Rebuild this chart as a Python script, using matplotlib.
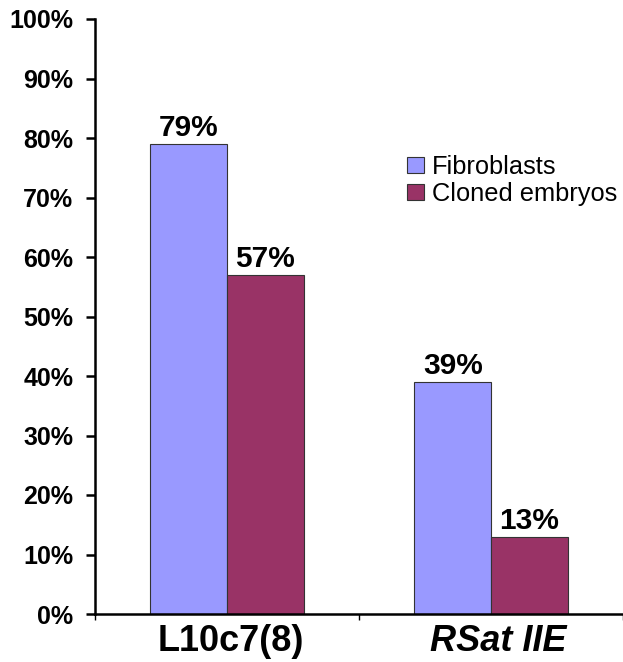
import matplotlib
matplotlib.use("Agg")
import matplotlib.pyplot as plt
import matplotlib.transforms as mtransforms
import numpy as np
from matplotlib.patches import Patch

categories = ["L10c7(8)", "RSat IIE"]
series_names = ["Fibroblasts", "Cloned embryos"]
fibroblasts = [79, 39]
cloned_embryos = [57, 13]
yticks = [0, 10, 20, 30, 40, 50, 60, 70, 80, 90, 100]

colors = ["#9999FF", "#993366"]

plt.rcParams["font.family"] = ["Liberation Sans", "DejaVu Sans"]

fig = plt.figure(figsize=(6.23, 6.62), dpi=100)
ax = fig.add_axes([95 / 623, 1 - 614 / 662, 1 - 95 / 623, (614 - 19) / 662])

x = np.arange(len(categories))
w = 0.29
for vals, off, col in [(fibroblasts, -w / 2, colors[0]), (cloned_embryos, w / 2, colors[1])]:
    bars = ax.bar(x + off, vals, width=w, color=col, edgecolor="#333333", linewidth=0.8, zorder=2)
    for b, v in zip(bars, vals):
        ax.text(b.get_x() + b.get_width() / 2, v + 0.3, f"{v}%", ha="center", va="bottom",
                fontsize=21.5, fontweight="bold")

ax.set_xlim(-0.5, 1.5)
ax.set_ylim(0, 100)
ax.set_yticks(yticks)
ax.set_yticklabels([f"{t}%" for t in yticks], fontsize=18, fontweight="bold")
ax.tick_params(axis="y", direction="out", length=6.5, width=1.8, pad=9)

ax.set_xticks([-0.5, 0.5, 1.5])
ax.set_xticklabels([])
ax.tick_params(axis="x", direction="out", length=4, width=1.0)
ax.set_xticks(x, minor=True)
ax.set_xticklabels(categories, minor=True, fontsize=26, fontweight="bold")
ax.tick_params(axis="x", which="minor", length=0, pad=7)
cat_labels = ax.get_xticklabels(minor=True)
cat_labels[1].set_fontstyle("italic")
for lbl, dx in zip(cat_labels, [4, 7]):
    lbl.set_transform(lbl.get_transform() + mtransforms.ScaledTranslation(dx / 100, 0, fig.dpi_scale_trans))

for s in ["top", "right"]:
    ax.spines[s].set_visible(False)
ax.spines["left"].set_linewidth(1.8)
ax.spines["bottom"].set_linewidth(1.8)

handles = [Patch(facecolor=c, edgecolor="#333333", linewidth=0.8) for c in colors]
ax.legend(handles, series_names, loc="upper left", bbox_to_anchor=(0.571, 0.788),
          frameon=False, fontsize=18.3, handlelength=0.7, handleheight=0.6,
          handletextpad=0.3, labelspacing=0.12, borderaxespad=0)

fig.savefig("out.png", dpi=100)
